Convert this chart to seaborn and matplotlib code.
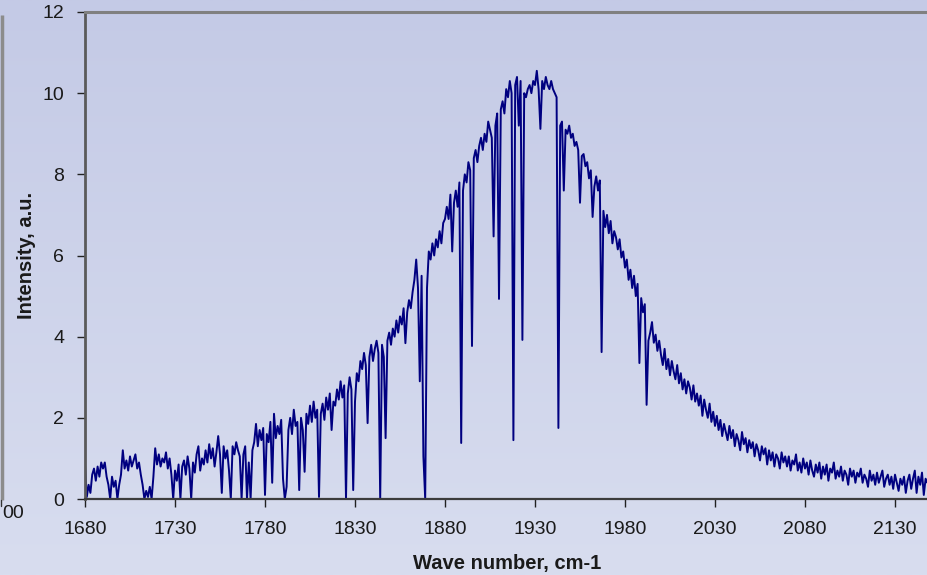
import numpy as np
import pandas as pd
import matplotlib
matplotlib.use("Agg")
import matplotlib.pyplot as plt
import seaborn as sns

# ---- data (1 cm-1 steps from 1680) ----
wn_start = 1680
wn_step = 1
intensity = [
    0.85, 0.05, 0.35, 0.15, 0.60, 0.75, 0.45, 0.80, 0.55, 0.90,   # 1680
    0.75, 0.90, 0.55, 0.35, 0.00, 0.55, 0.30, 0.45, 0.00, 0.35,   # 1690
    0.60, 1.20, 0.75, 0.95, 0.70, 1.05, 0.80, 0.95, 1.10, 0.75,   # 1700
    0.90, 0.60, 0.35, 0.00, 0.20, 0.05, 0.30, 0.00, 0.55, 1.25,   # 1710
    0.85, 1.10, 0.80, 1.00, 0.90, 1.15, 0.75, 1.00, 0.60, 0.00,   # 1720
    0.70, 0.45, 0.85, 0.00, 0.80, 0.95, 0.60, 1.05, 0.75, 0.00,   # 1730
    0.90, 0.65, 1.10, 1.30, 0.70, 1.00, 0.85, 1.20, 0.90, 1.35,   # 1740
    1.00, 1.25, 0.80, 1.15, 1.55, 1.10, 0.15, 1.30, 1.00, 1.20,   # 1750
    0.70, 0.00, 1.30, 1.10, 1.40, 1.20, 1.05, 0.00, 1.10, 1.30,   # 1760
    0.00, 0.90, 0.00, 1.20, 1.40, 1.85, 1.30, 1.70, 1.45, 1.75,   # 1770
    0.10, 1.60, 1.40, 1.90, 0.40, 2.10, 1.50, 1.80, 1.60, 1.95,   # 1780
    0.50, 0.00, 0.30, 1.70, 2.00, 1.60, 2.20, 1.80, 1.90, 0.22,   # 1790
    2.00, 1.70, 0.67, 2.10, 1.85, 2.30, 1.90, 2.40, 2.00, 2.20,   # 1800
    0.05, 2.10, 2.35, 1.95, 2.50, 2.20, 2.60, 1.70, 2.40, 2.30,   # 1810
    2.70, 2.45, 2.90, 2.50, 2.80, 0.00, 2.60, 3.00, 2.70, 0.22,   # 1820
    2.40, 3.10, 2.90, 3.40, 3.20, 3.60, 3.30, 1.87, 3.50, 3.80,   # 1830
    3.40, 3.70, 3.90, 3.60, 0.00, 3.80, 3.50, 1.50, 3.90, 4.10,   # 1840
    3.80, 4.20, 4.00, 4.40, 4.10, 4.50, 4.30, 4.70, 3.84, 4.60,   # 1850
    4.90, 4.70, 5.10, 5.40, 5.90, 5.20, 2.90, 5.50, 1.05, 0.00,   # 1860
    5.20, 6.10, 5.90, 6.30, 6.00, 6.40, 6.20, 6.60, 6.30, 6.80,   # 1870
    6.90, 7.20, 6.90, 7.50, 6.10, 7.30, 7.60, 7.20, 7.80, 1.38,   # 1880
    7.60, 8.00, 7.80, 8.30, 8.10, 3.77, 8.40, 8.60, 8.30, 8.70,   # 1890
    8.90, 8.60, 9.00, 8.80, 9.30, 9.10, 8.90, 6.47, 9.20, 9.50,   # 1900
    4.93, 9.60, 9.80, 9.50, 10.10, 9.90, 10.30, 10.00, 1.45, 10.20,  # 1910
    10.40, 9.20, 10.30, 3.92, 10.00, 9.90, 10.10, 10.20, 10.00, 10.30,  # 1920
    10.20, 10.55, 10.10, 9.12, 10.30, 10.10, 10.40, 10.20, 10.10, 10.30,  # 1930
    10.10, 10.00, 9.90, 1.75, 9.20, 9.30, 7.60, 9.10, 9.00, 9.20,   # 1940
    8.90, 9.00, 8.70, 8.80, 8.60, 7.30, 8.45, 8.50, 8.20, 8.30,   # 1950
    7.90, 8.10, 6.95, 7.70, 7.95, 7.60, 7.85, 3.62, 7.10, 6.70,   # 1960
    7.00, 6.55, 6.85, 6.30, 6.60, 6.45, 6.15, 6.40, 5.95, 6.10,   # 1970
    5.70, 5.90, 5.40, 5.65, 5.20, 5.50, 5.00, 5.30, 3.35, 4.95,   # 1980
    4.60, 4.80, 2.32, 3.90, 4.10, 4.36, 3.85, 4.05, 3.65, 3.90,   # 1990
    3.55, 3.30, 3.70, 3.20, 3.45, 3.05, 3.40, 3.15, 2.95, 3.30,   # 2000
    2.85, 3.10, 2.70, 2.95, 2.60, 2.90, 2.75, 2.45, 2.80, 2.40,   # 2010
    2.60, 2.30, 2.55, 2.05, 2.45, 2.20, 2.00, 2.35, 1.90, 2.15,   # 2020
    1.80, 2.05, 1.70, 1.95, 1.55, 1.85, 1.65, 1.45, 1.80, 1.50,   # 2030
    1.70, 1.30, 1.60, 1.45, 1.20, 1.65, 1.35, 1.50, 1.15, 1.45,   # 2040
    1.25, 1.40, 1.05, 1.35, 1.20, 0.95, 1.30, 1.10, 1.25, 0.85,   # 2050
    1.20, 0.95, 1.15, 0.80, 1.10, 1.00, 0.75, 1.15, 0.90, 1.05,   # 2060
    0.80, 1.05, 0.70, 0.95, 0.85, 1.10, 0.70, 0.90, 0.65, 1.00,   # 2070
    0.75, 0.90, 0.60, 0.95, 0.70, 0.55, 0.85, 0.65, 0.90, 0.50,   # 2080
    0.80, 0.60, 0.85, 0.45, 0.75, 0.65, 0.90, 0.50, 0.70, 0.55,   # 2090
    0.80, 0.45, 0.70, 0.60, 0.35, 0.75, 0.55, 0.70, 0.40, 0.65,   # 2100
    0.55, 0.75, 0.40, 0.60, 0.50, 0.30, 0.70, 0.45, 0.60, 0.35,   # 2110
    0.65, 0.40, 0.55, 0.70, 0.30, 0.50, 0.60, 0.35, 0.55, 0.25,   # 2120
    0.60, 0.40, 0.20, 0.50, 0.35, 0.55, 0.15, 0.45, 0.60, 0.25,   # 2130
    0.50, 0.70, 0.15, 0.55, 0.35, 0.65, 0.10, 0.50, 0.40, 0.60,   # 2140
    0.35,                                                         # 2150
]
wavenumber = wn_start + wn_step * np.arange(len(intensity))

x_ticks = [1680, 1730, 1780, 1830, 1880, 1930, 1980, 2030, 2080, 2130]
y_ticks = [0, 2, 4, 6, 8, 10, 12]

df = pd.DataFrame({"Wave number": wavenumber, "Intensity": intensity})

# ---- styling ----
sns.set_theme(style="white")
plt.rcParams["font.family"] = ["Liberation Sans", "DejaVu Sans"]

W, H = 927, 575
fig = plt.figure(figsize=(W / 100, H / 100), dpi=100)

# background gradient over the whole figure
bg = fig.add_axes([0, 0, 1, 1], zorder=-10)
top = np.array([196, 202, 230]) / 255.0
bot = np.array([216, 221, 239]) / 255.0
t = np.linspace(0, 1, 256)[:, None]
grad = top[None, :] * (1 - t) + bot[None, :] * t
bg.imshow(grad[:, None, :], aspect="auto", extent=[0, 1, 0, 1], origin="upper")
bg.set_xlim(0, 1)
bg.set_ylim(0, 1)
bg.axis("off")

# remnant of neighbouring chart at the far left
bg.plot([1.5 / W, 1.5 / W], [1 - 15 / H, 1 - 500 / H], color="#8c8c8c", lw=2.5,
        solid_capstyle="butt")
bg.plot([1.0 / W, 1.0 / W], [1 - 500 / H, 1 - 506 / H], color="#333333", lw=1)
bg.text(24 / W, 1 - 513 / H, "00", ha="right", va="center", fontsize=14,
        color="#1a1a1a")

left = 85 / W
right = 931 / W
bottom = 1 - 499 / H
topy = 1 - 12 / H
ax = fig.add_axes([left, bottom, right - left, topy - bottom])
ax.set_facecolor("none")

sns.lineplot(data=df, x="Wave number", y="Intensity", ax=ax, color="#000080",
             lw=1.4, estimator=None, sort=False)

ax.set_xlim(1680, 2150)
ax.set_ylim(0, 12)
ax.set_xticks(x_ticks)
ax.set_yticks(y_ticks)
ax.set_xticklabels([str(v) for v in x_ticks])
ax.set_yticklabels([str(v) for v in y_ticks])
ax.tick_params(axis="both", direction="out", length=6, width=1, color="#222222",
               labelsize=14, labelcolor="#1a1a1a")
ax.tick_params(axis="x", pad=10, bottom=True)
ax.tick_params(axis="y", pad=9, left=True)

ax.set_xlabel("Wave number, cm-1", fontsize=14.5, fontweight="bold",
              color="#1a1a1a")
ax.set_ylabel("Intensity, a.u.", fontsize=14.5, fontweight="bold",
              color="#1a1a1a")
ax.yaxis.set_label_coords(-(85 - 36) / (931 - 85), 0.5)
ax.xaxis.set_label_coords((507 - 85) / (931 - 85), -(554 - 499) / (499 - 12))

for s in ["left", "bottom", "top", "right"]:
    ax.spines[s].set_visible(True)
ax.spines["left"].set_color("#5a5a5a")
ax.spines["left"].set_linewidth(2)
ax.spines["bottom"].set_color("#3c3c3c")
ax.spines["bottom"].set_linewidth(1.6)
ax.spines["top"].set_color("#808080")
ax.spines["top"].set_linewidth(2.2)
ax.spines["right"].set_visible(False)
ax.grid(False)

fig.savefig("out.png", dpi=100)
